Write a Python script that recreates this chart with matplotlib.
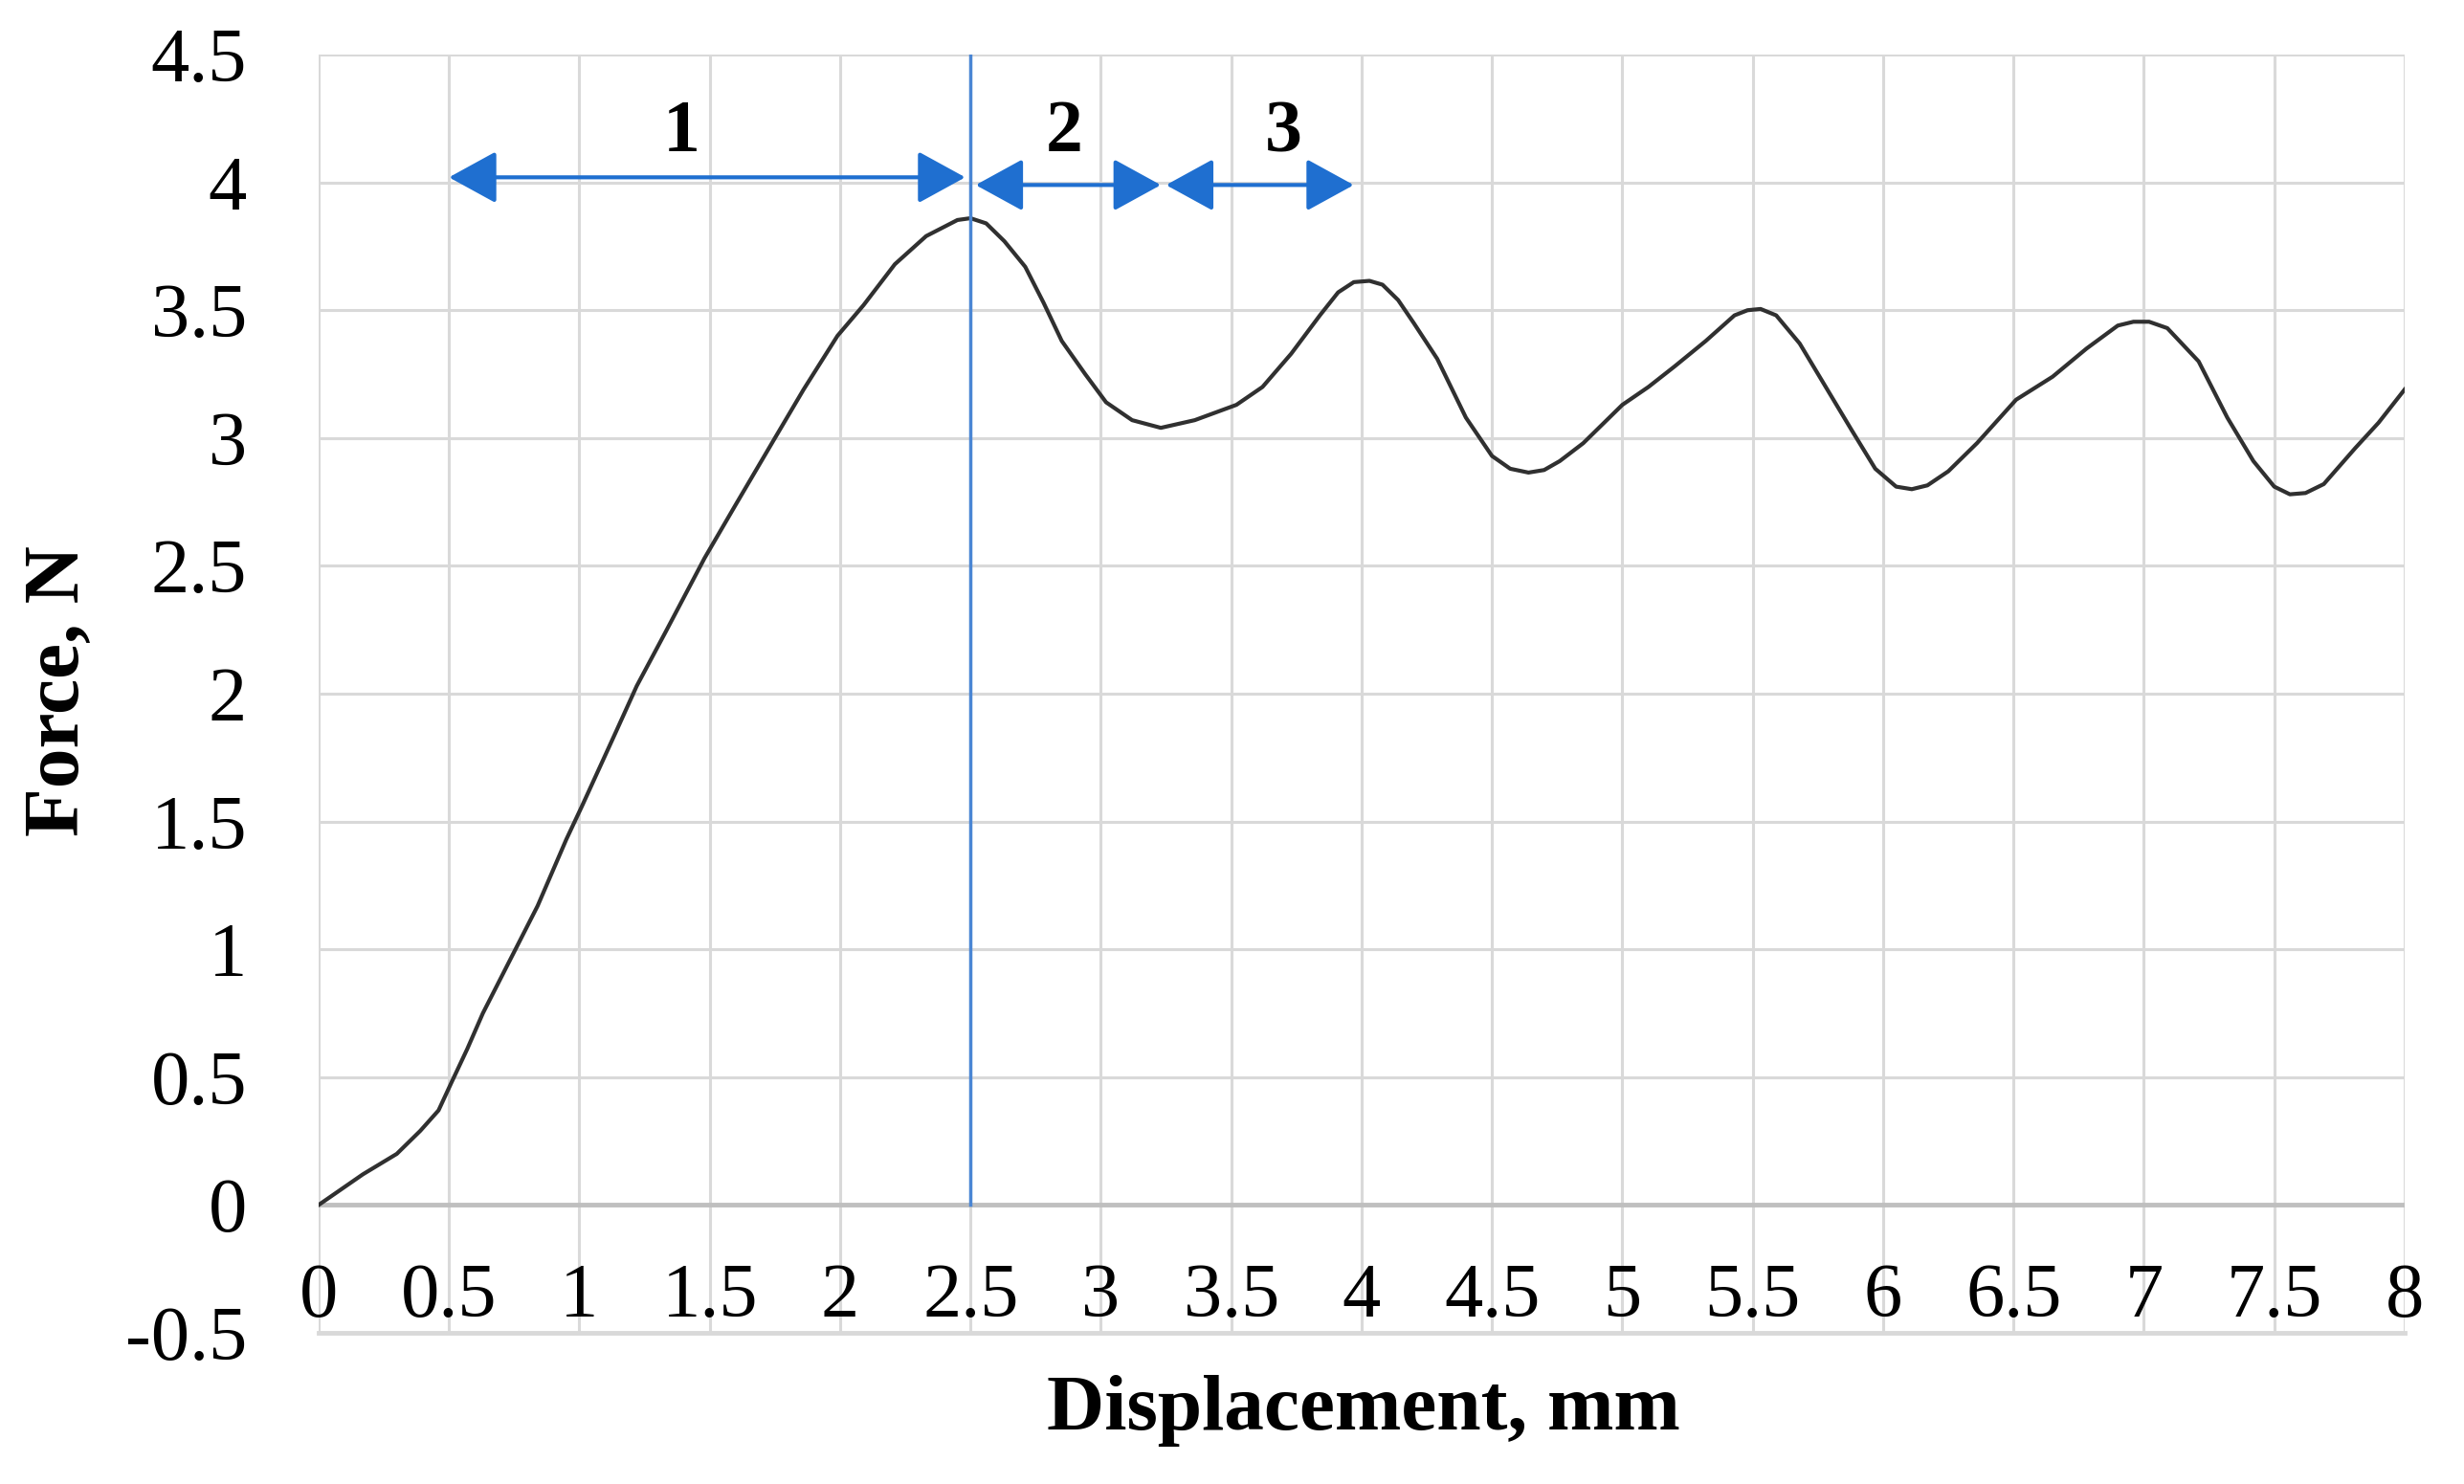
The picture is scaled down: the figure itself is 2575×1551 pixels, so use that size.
import numpy as np
import matplotlib.pyplot as plt

# force vs displacement
disp = [0, 0.17, 0.30, 0.39, 0.46, 0.51, 0.57, 0.63, 0.71, 0.77, 0.84, 0.95, 1.01,
        1.14, 1.22, 1.33, 1.48, 1.60, 1.75, 1.86, 1.99, 2.09, 2.21, 2.33, 2.45, 2.50,
        2.56, 2.63, 2.71, 2.78, 2.85, 2.94, 3.02, 3.12, 3.23, 3.36, 3.52, 3.62, 3.73,
        3.84, 3.91, 3.97, 4.03, 4.08, 4.14, 4.20, 4.29, 4.40, 4.50, 4.57, 4.64, 4.70,
        4.76, 4.85, 5.00, 5.10, 5.20, 5.32, 5.43, 5.48, 5.53, 5.59, 5.68, 5.78, 5.88,
        5.97, 6.05, 6.11, 6.17, 6.25, 6.36, 6.51, 6.65, 6.78, 6.90, 6.96, 7.02, 7.09,
        7.21, 7.32, 7.42, 7.50, 7.56, 7.62, 7.69, 7.81, 7.90, 8.0]
force = [0, 0.12, 0.20, 0.29, 0.37, 0.48, 0.61, 0.75, 0.91, 1.03, 1.17, 1.43, 1.56,
         1.85, 2.03, 2.24, 2.53, 2.74, 3.00, 3.19, 3.40, 3.52, 3.68, 3.79, 3.853, 3.86,
         3.84, 3.77, 3.67, 3.53, 3.38, 3.25, 3.14, 3.07, 3.04, 3.07, 3.13, 3.20, 3.33,
         3.48, 3.57, 3.61, 3.615, 3.60, 3.54, 3.45, 3.31, 3.08, 2.93, 2.88, 2.865, 2.875,
         2.91, 2.98, 3.13, 3.20, 3.28, 3.38, 3.48, 3.50, 3.505, 3.48, 3.37, 3.20, 3.03,
         2.88, 2.81, 2.80, 2.815, 2.87, 2.98, 3.15, 3.24, 3.35, 3.44, 3.455, 3.455, 3.43,
         3.30, 3.08, 2.91, 2.81, 2.78, 2.785, 2.82, 2.96, 3.06, 3.19]

# zone arrows: (start, end, y, label, label x)
zones = [(0.5, 2.48, 4.02, '1', 1.39),
         (2.52, 3.23, 3.99, '2', 2.86),
         (3.25, 3.97, 3.99, '3', 3.70)]

xticks = np.arange(0, 8.01, 0.5)
yticks = np.arange(-0.5, 4.51, 0.5)

plt.rcParams['font.family'] = ['Liberation Serif', 'DejaVu Serif']

fig = plt.figure(figsize=(25.75, 15.51), dpi=100)
ax = fig.add_axes([0.1293, 0.1019, 0.9759 - 0.1293, 0.9632 - 0.1019])

ax.set_xlim(0, 8)
ax.set_ylim(-0.5, 4.5)
ax.set_xticks(xticks)
ax.set_yticks(yticks)
ax.grid(True, color='#d9d9d9', linewidth=2.2)
ax.set_axisbelow(True)
for s in ax.spines.values():
    s.set_visible(False)
ax.axhline(0, color='#bfbfbf', linewidth=3.5, zorder=1)
ax.axhline(-0.5, color='#d9d9d9', linewidth=3.5, zorder=1, clip_on=False)

ax.tick_params(length=0)
ax.tick_params(axis='y', labelsize=58, pad=54)
ax.set_yticklabels(['%g' % v for v in yticks])
ax.set_xticklabels([])
for v in xticks:
    ax.text(v, -0.5, '%g' % v, ha='center', va='bottom', fontsize=58)

ax.plot(disp, force, color='#303030', linewidth=3, zorder=3)
ax.plot([2.5, 2.5], [0, 4.5], color='#4a86d4', linewidth=2.5, zorder=4)

blue = '#1f6fd0'
for x0, x1, y, lab, lx in zones:
    ax.annotate('', xy=(x0, y), xytext=(x1, y),
                arrowprops=dict(arrowstyle='<|-|>,head_length=3.1,head_width=1.7',
                                color=blue, linewidth=3, shrinkA=0, shrinkB=0),
                zorder=5)
    ax.text(lx, 4.19, lab, ha='center', va='center', fontsize=56, fontweight='bold')

fig.text(1425 / 2575, 1 - 1475 / 1551, 'Displacement, mm', ha='center', va='center',
         fontsize=60, fontweight='bold')
fig.text(62 / 2575, 1 - 722 / 1551, 'Force, N', ha='center', va='center',
         rotation=90, fontsize=60, fontweight='bold')

fig.savefig('out.png', dpi=100)
